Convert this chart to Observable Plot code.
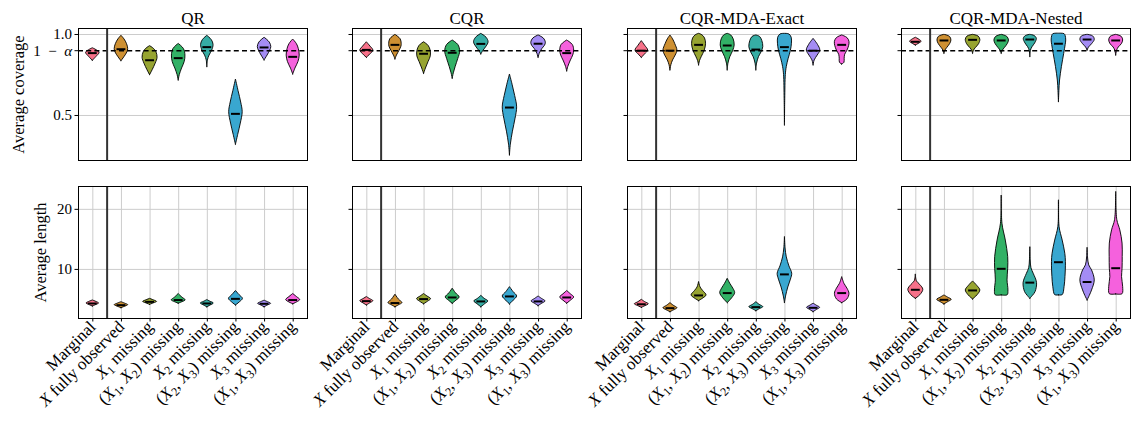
<!DOCTYPE html>
<html><head><meta charset="utf-8">
<script src="https://cdn.jsdelivr.net/npm/d3@7"></script>
<script src="https://cdn.jsdelivr.net/npm/@observablehq/plot@0.6"></script>
<style>
body{margin:0;background:#fff;}
#fig{position:relative;width:1133px;height:428px;overflow:hidden;font-family:"Liberation Serif",serif;background:#fff;}
#fig svg{position:absolute;overflow:visible;background:transparent;}
</style></head><body><div id="fig"></div>
<script>
// ---------- data ----------
const categories = ["Marginal","X fully observed","X₁ missing","(X₁, X₂) missing","X₂ missing","(X₂, X₃) missing","X₃ missing","(X₁, X₃) missing"];
const methods = ["QR","CQR","CQR-MDA-Exact","CQR-MDA-Nested"];
const colors = ["#f77189","#ce9032","#97a431","#32b166","#36ada4","#39a7d0","#a48cf4","#f561dd"];
const coverageTicks = [0.5, 0.9, 1.0];
const coverageTickLabels = ["0.5", "1\u2002−\u2002α", "1.0"];
const targetCoverage = 0.9;
const lengthTicks = [10, 20];
const lengthTickLabels = ["10", "20"];

// violin profiles: [value, relative width] from low to high value
const qrCoverage = [
  [[0.838,0],[0.862,0.5],[0.887,0.9],[0.903,0.5],[0.915,0]],
  [[0.835,0],[0.86,0.4],[0.89,0.8],[0.91,0.9],[0.94,0.75],[0.97,0.4],[0.992,0]],
  [[0.749,0],[0.78,0.35],[0.82,0.75],[0.856,1.0],[0.89,0.85],[0.912,0.5],[0.928,0]],
  [[0.716,0],[0.75,0.15],[0.79,0.45],[0.83,0.8],[0.87,0.9],[0.91,0.7],[0.942,0]],
  [[0.798,0],[0.84,0.08],[0.87,0.3],[0.9,0.65],[0.936,0.83],[0.965,0.6],[0.992,0]],
  [[0.319,0],[0.38,0.3],[0.45,0.65],[0.52,0.9],[0.58,0.7],[0.65,0.35],[0.722,0]],
  [[0.84,0],[0.87,0.4],[0.9,0.75],[0.922,0.9],[0.95,0.7],[0.98,0]],
  [[0.753,0],[0.79,0.3],[0.83,0.7],[0.87,0.87],[0.91,0.75],[0.94,0.5],[0.969,0]]
];
const qrCoverageMedian = [0.885,0.909,0.841,0.854,0.922,0.51,0.92,0.862];

const cqrCoverage = [
  [[0.856,0],[0.878,0.5],[0.901,0.87],[0.925,0.5],[0.952,0]],
  [[0.846,0],[0.87,0.2],[0.9,0.55],[0.925,0.8],[0.943,0.83],[0.97,0.7],[0.998,0]],
  [[0.757,0],[0.79,0.25],[0.83,0.6],[0.865,0.9],[0.9,0.88],[0.93,0.6],[0.952,0]],
  [[0.727,0],[0.76,0.15],[0.8,0.4],[0.85,0.75],[0.895,1.0],[0.935,0.75],[0.963,0]],
  [[0.877,0],[0.9,0.3],[0.925,0.7],[0.952,0.97],[0.98,0.7],[1.004,0]],
  [[0.253,0],[0.32,0.12],[0.4,0.4],[0.48,0.75],[0.55,0.96],[0.62,0.7],[0.69,0.35],[0.753,0]],
  [[0.856,0],[0.88,0.15],[0.91,0.5],[0.93,0.85],[0.949,0.97],[0.975,0.7],[0.994,0]],
  [[0.772,0],[0.8,0.15],[0.84,0.5],[0.87,0.8],[0.9,0.93],[0.935,0.75],[0.963,0]]
];
const cqrCoverageMedian = [0.905,0.936,0.881,0.887,0.942,0.549,0.943,0.885];

const exactCoverage = [
  [[0.856,0],[0.878,0.45],[0.901,0.84],[0.93,0.45],[0.959,0]],
  [[0.778,0],[0.81,0.12],[0.84,0.35],[0.87,0.7],[0.9,0.93],[0.94,0.65],[0.97,0.35],[0.994,0]],
  [[0.809,0],[0.835,0.12],[0.86,0.35],[0.9,0.75],[0.94,0.93],[0.975,0.8],[0.995,0.45],[1.004,0]],
  [[0.778,0],[0.82,0.1],[0.86,0.35],[0.9,0.75],[0.932,0.93],[0.97,0.8],[0.995,0.45],[1.004,0]],
  [[0.778,0],[0.82,0.1],[0.86,0.35],[0.89,0.7],[0.922,0.93],[0.96,0.8],[0.985,0.5],[0.994,0]],
  [[0.438,0],[0.6,0.04],[0.75,0.12],[0.8,0.25],[0.85,0.5],[0.9,0.8],[0.943,0.93],[0.98,0.9],[1.0,0.6],[1.004,0]],
  [[0.809,0],[0.84,0.15],[0.87,0.55],[0.901,0.9],[0.935,0.6],[0.973,0]],
  [[0.815,0],[0.825,0.3],[0.85,0.33],[0.875,0.4],[0.9,0.7],[0.93,0.93],[0.955,0.97],[0.978,0.7],[0.994,0]]
];
const exactCoverageMedian = [0.9,0.9,0.936,0.932,0.907,0.922,0.9,0.936];

const nestedCoverage = [
  [[0.932,0],[0.945,0.5],[0.955,0.77],[0.967,0.5],[0.98,0]],
  [[0.881,0],[0.9,0.12],[0.915,0.35],[0.94,0.75],[0.963,0.93],[0.985,0.75],[0.998,0]],
  [[0.881,0],[0.9,0.12],[0.915,0.35],[0.94,0.8],[0.967,0.97],[0.987,0.75],[0.998,0]],
  [[0.881,0],[0.9,0.15],[0.915,0.4],[0.94,0.8],[0.963,0.97],[0.985,0.75],[0.998,0]],
  [[0.86,0],[0.9,0.08],[0.922,0.3],[0.945,0.65],[0.973,0.87],[0.99,0.6],[0.998,0]],
  [[0.582,0],[0.65,0.06],[0.716,0.15],[0.8,0.4],[0.88,0.7],[0.935,0.9],[0.963,0.97],[0.99,0.9],[1.002,0.75],[1.005,0]],
  [[0.901,0],[0.92,0.2],[0.94,0.6],[0.967,0.96],[0.988,0.75],[0.998,0]],
  [[0.87,0],[0.9,0.12],[0.92,0.35],[0.94,0.75],[0.963,0.93],[0.985,0.75],[0.998,0]]
];
const nestedCoverageMedian = [0.955,0.963,0.967,0.963,0.969,0.943,0.969,0.963];

const qrLength = [
  [[3.83,0],[4.1,0.5],[4.33,0.84],[4.58,0.5],[4.83,0]],
  [[3.55,0],[3.8,0.5],[4.05,0.9],[4.3,0.5],[4.55,0]],
  [[4.1,0],[4.35,0.5],[4.6,0.93],[4.85,0.5],[5.1,0]],
  [[4.3,0],[4.55,0.5],[4.85,0.93],[5.3,0.5],[5.9,0]],
  [[3.7,0],[4.0,0.45],[4.33,0.87],[4.6,0.45],[4.9,0]],
  [[4.0,0],[4.5,0.5],[5.1,0.93],[5.7,0.5],[6.4,0]],
  [[3.7,0],[4.0,0.45],[4.28,0.87],[4.55,0.45],[4.8,0]],
  [[4.2,0],[4.5,0.5],[4.9,0.93],[5.4,0.5],[5.9,0]]
];
const qrLengthMedian = [4.33,4.05,4.6,4.9,4.33,5.1,4.28,4.9];

const cqrLength = [
  [[4.0,0],[4.35,0.45],[4.72,0.87],[5.05,0.45],[5.4,0]],
  [[3.7,0],[4.05,0.5],[4.39,0.93],[5.0,0.45],[5.8,0]],
  [[4.2,0],[4.6,0.5],[5.06,0.93],[5.5,0.45],[5.9,0]],
  [[4.28,0],[4.8,0.5],[5.33,0.93],[6.0,0.45],[6.8,0]],
  [[3.7,0],[4.2,0.5],[4.67,0.93],[5.1,0.45],[5.6,0]],
  [[4.17,0],[4.8,0.5],[5.5,0.96],[6.2,0.5],[7.05,0]],
  [[3.9,0],[4.3,0.5],[4.67,0.93],[5.1,0.45],[5.5,0]],
  [[4.3,0],[4.8,0.5],[5.33,0.93],[5.85,0.5],[6.4,0]]
];
const cqrLengthMedian = [4.72,4.4,5.06,5.33,4.67,5.5,4.67,5.33];

const exactLength = [
  [[3.61,0],[3.9,0.5],[4.2,0.93],[4.55,0.45],[4.94,0]],
  [[2.89,0],[3.2,0.5],[3.55,0.93],[3.95,0.45],[4.39,0]],
  [[4.72,0],[5.2,0.6],[5.67,1.0],[6.4,0.55],[7.0,0.2],[7.9,0]],
  [[4.39,0],[5.2,0.6],[6.06,1.0],[6.8,0.75],[7.6,0.35],[8.44,0]],
  [[3.05,0],[3.4,0.5],[3.72,0.93],[4.1,0.45],[4.55,0]],
  [[4.39,0],[5.5,0.15],[7.0,0.45],[8.3,0.8],[9.28,0.97],[10.5,0.6],[12.0,0.25],[13.5,0.08],[15.4,0]],
  [[2.9,0],[3.25,0.45],[3.61,0.87],[3.95,0.45],[4.3,0]],
  [[4.39,0],[5.0,0.7],[5.94,0.97],[6.8,0.7],[7.6,0.3],[8.72,0]]
];
const exactLengthMedian = [4.2,3.55,5.67,6.06,3.72,9.17,3.61,6.06];

const nestedLength = [
  [[5.11,0],[5.7,0.6],[6.61,1.0],[7.4,0.6],[8.0,0.15],[9.17,0]],
  [[4.17,0],[4.55,0.5],[4.94,0.97],[5.3,0.5],[5.67,0]],
  [[5.0,0],[5.7,0.6],[6.5,0.97],[7.2,0.6],[8.0,0]],
  [[5.67,0],[5.7,0.8],[6.5,0.9],[8.17,0.78],[10.1,0.87],[12.05,0.87],[14.8,0.55],[17.6,0.1],[22.3,0]],
  [[5.11,0],[5.6,0.35],[6.22,0.7],[7.72,0.9],[9.28,0.45],[10.2,0.15],[11.5,0.05],[13.7,0]],
  [[5.67,0],[5.72,0.5],[7.05,0.75],[8.72,0.87],[11.2,0.93],[12.6,0.85],[14.8,0.5],[17.05,0.08],[21.5,0]],
  [[4.83,0],[5.6,0.3],[6.5,0.6],[8.17,0.96],[9.83,0.6],[10.67,0.22],[12.0,0.06],[13.6,0]],
  [[5.83,0],[5.88,0.85],[7.05,0.93],[8.72,0.78],[10.1,0.85],[12.05,0.87],[14.3,0.85],[16.5,0.55],[18.2,0.15],[22.9,0]]
];
const nestedLengthMedian = [6.61,4.94,6.5,10.1,7.8,11.2,7.9,10.2];

// ---------- layout ----------
const coverageSets = [qrCoverage, cqrCoverage, exactCoverage, nestedCoverage];
const coverageMedians = [qrCoverageMedian, cqrCoverageMedian, exactCoverageMedian, nestedCoverageMedian];
const lengthSets = [qrLength, cqrLength, exactLength, nestedLength];
const lengthMedians = [qrLengthMedian, cqrLengthMedian, exactLengthMedian, nestedLengthMedian];

const colLeft = [78, 352, 627, 901];
const rowTop = [28, 186];
const FW = 229, FH = 132;
const MAXHW = 0.262, MEDHW = 0.155;
const FONT = "Liberation Serif";
const fig = document.getElementById("fig");

function toRows(profiles) {
  const rows = [];
  profiles.forEach((p, i) => p.forEach(([v, w]) => rows.push({cat: i, v, w, color: colors[i]})));
  return rows;
}

function panel(col, row) {
  const top = row === 0;
  const ml = 80, mr = 10, mt = 30, mb = top ? 10 : 110;
  const rows = toRows(top ? coverageSets[col] : lengthSets[col]);
  const meds = (top ? coverageMedians[col] : lengthMedians[col]).map((m, i) => ({cat: i, m}));
  const yDomain = top ? [0.222, 1.037] : [1.83, 23.8];
  const ticks = top ? coverageTicks : lengthTicks;
  const tickLabels = top ? coverageTickLabels : lengthTickLabels;
  const centers = categories.map((c, i) => i + 0.5);
  const marks = [];
  if (top) {
    marks.push(Plot.ruleY([0.5, 1.0], {stroke: "#cccccc", strokeWidth: 1}));
  } else {
    marks.push(Plot.ruleY(lengthTicks, {stroke: "#cccccc", strokeWidth: 1}));
    marks.push(Plot.ruleX(centers, {stroke: "#cccccc", strokeWidth: 1}));
  }
  marks.push(Plot.areaX(rows, {
    y: "v", x1: d => d.cat + 0.5 - d.w * MAXHW, x2: d => d.cat + 0.5 + d.w * MAXHW,
    z: "cat", fill: "color", stroke: "black", strokeWidth: 0.9, curve: "catmull-rom"
  }));
  marks.push(Plot.ruleY(meds, {y: "m", x1: d => d.cat + 0.5 - MEDHW, x2: d => d.cat + 0.5 + MEDHW, stroke: "black", strokeWidth: 2}));
  if (top) marks.push(Plot.ruleY([targetCoverage], {stroke: "black", strokeWidth: 1.4, strokeDasharray: "5,3.2"}));
  marks.push(Plot.ruleX([1], {stroke: "#333333", strokeWidth: 2}));
  marks.push(Plot.frame({stroke: "black", strokeWidth: 1}));
  marks.push(Plot.axisY({
    ticks, tickSize: 3.5, tickPadding: 3, fontSize: 15,
    tickFormat: col === 0 ? (d => tickLabels[ticks.indexOf(d)]) : (() => ""), label: null
  }));
  if (!top) {
    marks.push(Plot.axisX({
      ticks: centers, tickSize: 3.5, tickPadding: 2, tickRotate: -45, fontSize: 17,
      tickFormat: d => categories[Math.round(d - 0.5)], label: null
    }));
  }
  if (top) marks.push(Plot.text([methods[col]], {frameAnchor: "top", textAnchor: "middle", lineAnchor: "bottom", dy: -5, fontSize: 17, fill: "black"}));
  if (col === 0) marks.push(Plot.text([top ? "Average coverage" : "Average length"],
    {frameAnchor: "left", textAnchor: "middle", lineAnchor: "middle", rotate: -90, dx: top ? -60 : -38, fontSize: 16.5, fill: "black"}));

  const svg = Plot.plot({
    width: ml + FW + mr, height: mt + FH + mb,
    marginLeft: ml, marginRight: mr, marginTop: mt, marginBottom: mb,
    x: {domain: [0, 8], axis: null},
    y: {domain: yDomain, axis: null},
    style: {fontFamily: FONT, fontSize: "15px", background: "transparent", overflow: "visible", color: "black"},
    marks
  });
  svg.style.left = (colLeft[col] - ml) + "px";
  svg.style.top = (rowTop[row] - mt) + "px";
  fig.appendChild(svg);
  d3.select(svg).selectAll("text").each(function() { styleMath(this); });
}

function styleMath(el) {
  const s = el.textContent;
  if (!/[Xα₁₂₃]/.test(s) || el.querySelector("tspan")) return;
  const ns = "http://www.w3.org/2000/svg";
  el.textContent = "";
  el.style.whiteSpace = "pre";
  let run = "", shifted = false;
  const flush = () => {
    if (!run) return;
    const t = document.createElementNS(ns, "tspan");
    t.textContent = run;
    if (shifted) { t.setAttribute("dy", "-3.5"); shifted = false; }
    el.appendChild(t); run = "";
  };
  for (const ch of s) {
    if (ch === "X" || ch === "α") {
      flush();
      const t = document.createElementNS(ns, "tspan");
      t.setAttribute("font-style", "italic");
      t.textContent = ch;
      if (shifted) { t.setAttribute("dy", "-3.5"); shifted = false; }
      el.appendChild(t);
    } else if ("₁₂₃".includes(ch)) {
      flush();
      const t = document.createElementNS(ns, "tspan");
      t.textContent = String("₁₂₃".indexOf(ch) + 1);
      t.setAttribute("font-size", "70%");
      t.setAttribute("dy", "3.5");
      shifted = true;
      el.appendChild(t);
    } else run += ch;
  }
  flush();
}

for (let r = 0; r < 2; r++) for (let c = 0; c < 4; c++) panel(c, r);
</script></body></html>
